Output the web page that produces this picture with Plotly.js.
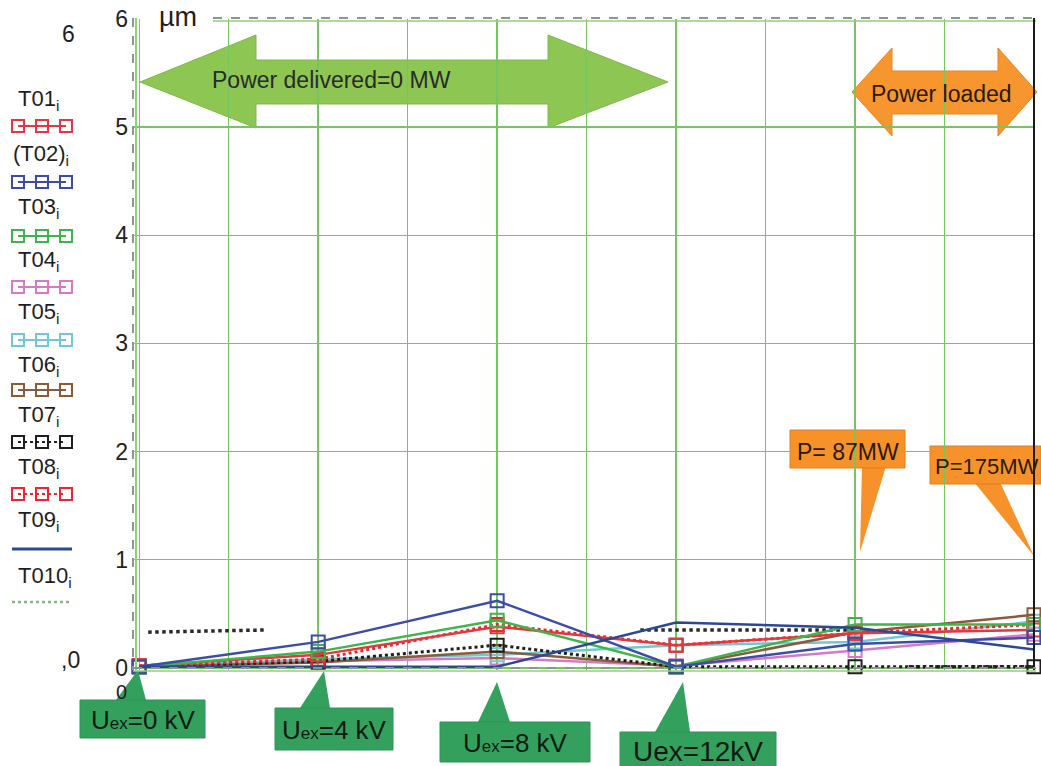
<!DOCTYPE html>
<html>
<head>
<meta charset="utf-8">
<script src="https://cdn.plot.ly/plotly-3.0.1.min.js"></script>
<style>html,body{margin:0;padding:0;background:#fff}#chart{width:1041px;height:766px}</style>
</head>
<body>
<div id="chart"></div>
<script>
// ---------------- data ----------------
const categories = ['U<span style="font-size:17px">ex</span>=0 kV', 'U<span style="font-size:17px">ex</span>=4 kV', 'U<span style="font-size:17px">ex</span>=8 kV', 'Uex=12kV', 'P= 87MW', 'P=175MW'];
const xPos = [0, 2, 4, 6, 8, 10];
const seriesNames = ['T01<sub>i</sub>', '(T02)<sub>i</sub>', 'T03<sub>i</sub>', 'T04<sub>i</sub>', 'T05<sub>i</sub>', 'T06<sub>i</sub>', 'T07<sub>i</sub>', 'T08<sub>i</sub>', 'T09<sub>i</sub>', 'T010<sub>i</sub>'];
const T01 = [0.02, 0.12, 0.38, 0.21, 0.32, 0.35];
const T02 = [0.01, 0.24, 0.62, 0.01, 0.22, 0.28];
const T03 = [0.01, 0.15, 0.44, 0.01, 0.40, 0.40];
const T04 = [0.01, 0.06, 0.09, 0.02, 0.16, 0.31];
const T05 = [0.01, 0.08, 0.12, 0.21, 0.24, 0.43];
const T06 = [0.01, 0.05, 0.15, 0.01, 0.33, 0.49];
const T07 = [0.01, 0.06, 0.21, 0.01, 0.01, 0.01];
const T08 = [0.02, 0.08, 0.40, 0.21, 0.32, 0.40];
const T09 = [0.01, 0.01, 0.01, 0.42, 0.37, 0.17];
const T010x = [0.1, 1.4, null, 5.6, 8, null, 8.6, 10];
const T010 = [0.33, 0.35, null, 0.35, 0.35, null, 0.01, 0.01];
const yTicks = [0, 1, 2, 3, 4, 5, 6];

// ---------------- styles ----------------
const W = 1041, H = 766;
const px = x => x / W;
const py = y => 1 - y / H;
const styles = [
  {c: '#e2373c', dash: 'solid', m: true},
  {c: '#3b4da6', dash: 'solid', m: true},
  {c: '#3db54a', dash: 'solid', m: true},
  {c: '#d878c8', dash: 'solid', m: true},
  {c: '#72c8d2', dash: 'solid', m: true},
  {c: '#8b5a3c', dash: 'solid', m: true},
  {c: '#1e1e1e', dash: 'dot', m: true},
  {c: '#e8262c', dash: 'dot', m: true},
  {c: '#2c4796', dash: 'solid', m: false},
  {c: '#8fae8a', dash: 'dot', m: false}
];
const allY = [T01, T02, T03, T04, T05, T06, T07, T08, T09];

const traces = [];
const order = [9, 3, 4, 5, 6, 7, 0, 2, 1, 8];
order.forEach(i => {
  const s = styles[i];
  if (i === 9) {
    traces.push({x: T010x, y: T010, mode: 'lines', xaxis: 'x', yaxis: 'y',
      line: {color: '#2a2a2a', width: 3.5, dash: 'dot'}, connectgaps: false, showlegend: false, cliponaxis: false});
    return;
  }
  traces.push({x: xPos, y: allY[i], mode: s.m ? 'lines+markers' : 'lines', xaxis: 'x', yaxis: 'y',
    line: {color: s.c, width: s.dash === 'dot' ? 3 : 2.5, dash: s.dash === 'dot' ? 'dot' : 'solid'},
    marker: {symbol: 'square-open', size: 13, color: s.c, line: {width: 2, color: s.c}},
    showlegend: false, cliponaxis: false});
});

// legend samples drawn on a pixel-space overlay axis
const legLineY = [126, 182, 236, 287, 340, 390, 442, 494, 549, 602];
const legTextY = [100, 155, 208, 261, 313, 366, 416, 468, 521, 577];
styles.forEach((s, i) => {
  if (s.m) {
    traces.push({x: [18, 42, 66], y: [legLineY[i], legLineY[i], legLineY[i]], xaxis: 'x2', yaxis: 'y2',
      mode: 'lines+markers', line: {color: s.c, width: 2, dash: s.dash === 'dot' ? 'dot' : 'solid'},
      marker: {symbol: 'square-open', size: 12, color: s.c, line: {width: 2, color: s.c}}, showlegend: false, cliponaxis: false});
  } else {
    traces.push({x: [12, 72], y: [legLineY[i], legLineY[i]], xaxis: 'x2', yaxis: 'y2',
      mode: 'lines', line: {color: s.c, width: s.dash === 'dot' ? 2.5 : 3, dash: s.dash},
      showlegend: false, cliponaxis: false});
  }
});

// ---------------- shapes ----------------
function poly(pts) {
  return 'M ' + pts.map(p => px(p[0]).toFixed(5) + ',' + py(p[1]).toFixed(5)).join(' L ') + ' Z';
}
const shapes = [];
const greenArrow = [[140,82],[256,35],[256,60],[548,60],[548,35],[668,82],[548,128],[548,104],[256,104],[256,128]];
const orangeArrow = [[852,92],[892,48],[892,71],[998,71],[998,48],[1037,92],[998,136],[998,114],[892,114],[892,136]];
shapes.push({type: 'path', xref: 'paper', yref: 'paper', path: poly(greenArrow), fillcolor: '#8dc653', line: {color: '#7fb84a', width: 1}, layer: 'below'});
shapes.push({type: 'path', xref: 'paper', yref: 'paper', path: poly(orangeArrow), fillcolor: '#f7962e', line: {color: '#e88420', width: 1}, layer: 'below'});

const gBoxes = [
  {b: [80,700,205,738], w: [[116,700],[146,700],[138,670]]},
  {b: [275,708,393,750], w: [[300,708],[330,708],[324,671]]},
  {b: [440,722,590,762], w: [[478,722],[510,722],[497,682]]},
  {b: [620,732,776,768], w: [[655,732],[690,732],[683,682]]}
];
gBoxes.forEach(g => {
  shapes.push({type: 'path', xref: 'paper', yref: 'paper', path: poly(g.w), fillcolor: '#34a05e', line: {width: 0}, layer: 'above'});
  shapes.push({type: 'rect', xref: 'paper', yref: 'paper', x0: px(g.b[0]), x1: px(g.b[2]), y0: py(g.b[3]), y1: py(g.b[1]), fillcolor: '#34a05e', line: {color: '#2f9457', width: 1}, layer: 'above'});
});
const oBoxes = [
  {b: [790,430,905,468], w: [[862,466],[886,466],[860,552]]},
  {b: [930,446,1041,484], w: [[974,482],[1000,482],[1034,556]]}
];
oBoxes.forEach(o => {
  shapes.push({type: 'path', xref: 'paper', yref: 'paper', path: poly(o.w), fillcolor: '#f7922a', line: {width: 0}, layer: 'below'});
  shapes.push({type: 'rect', xref: 'paper', yref: 'paper', x0: px(o.b[0]), x1: px(o.b[2]), y0: py(o.b[3]), y1: py(o.b[1]), fillcolor: '#f7922a', line: {color: '#e07f1c', width: 1}, layer: 'below'});
});
const lineShape = (x0, y0, x1, y1, c, w, d) => ({type: 'line', xref: 'paper', yref: 'paper', x0: px(x0), y0: py(y0), x1: px(x1), y1: py(y1), line: {color: c, width: w, dash: d || 'solid'}, layer: 'above'});
shapes.push(lineShape(133, 18, 133, 670, '#8c9690', 2, 'dash'));
shapes.push(lineShape(136, 18, 136, 670, '#8fd07a', 2));
shapes.push(lineShape(213, 18, 1036, 18, '#8c9690', 2, 'dash'));
shapes.push(lineShape(213, 21, 1036, 21, '#8fd07a', 1.5));
shapes.push(lineShape(1034, 18, 1034, 670, '#1a1a1a', 2));
shapes.push(lineShape(133, 668, 1036, 668, '#8c9690', 2, 'dash'));
shapes.push(lineShape(133, 671, 1036, 671, '#8fd07a', 1.5));

// ---------------- annotations ----------------
const FONT = 'Liberation Sans, Arial, sans-serif';
const ann = [];
const txt = (x, y, t, size, color, xanchor) => ({xref: 'paper', yref: 'paper', x: px(x), y: py(y), text: t, showarrow: false,
  xanchor: xanchor || 'center', yanchor: 'middle', font: {family: FONT, size: size, color: color || '#1e1e1e'}});
seriesNames.forEach((n, i) => ann.push(txt(i === 1 ? 11 : 16, legTextY[i], n, 22, '#1e1e1e', 'left')));
ann.push(txt(178, 17, 'µm', 27));
ann.push(txt(68, 34, '6', 23));
ann.push(txt(70, 660, ',0', 23));
ann.push(txt(121, 692, '0', 20));
ann.push(txt(331, 80, 'Power delivered=0 MW', 23, '#2a2a2a'));
ann.push(txt(941, 94, 'Power loaded', 23, '#2a1a0a'));
ann.push(txt(848, 452, 'P= 87MW', 23, '#2a1a0a'));
ann.push(txt(933, 466, 'P=175MW', 22, '#2a1a0a', 'left'));
const gText = [[143, 720], [334, 730], [515, 743], [698, 751]];
categories.slice(0, 4).forEach((c, i) => ann.push(txt(gText[i][0], gText[i][1], c, i === 3 ? 28 : 26, '#101a12')));

const layout = {
  width: W, height: H,
  margin: {l: 0, r: 0, t: 0, b: 0},
  paper_bgcolor: '#ffffff',
  plot_bgcolor: 'rgba(0,0,0,0)',
  showlegend: false,
  xaxis: {domain: [px(133), px(1034)], range: [-0.07, 10], dtick: 1, tick0: 0, showgrid: true,
    gridcolor: '#74c75f', gridwidth: 1.5, zeroline: false, showticklabels: false, showline: false, fixedrange: true},
  yaxis: {domain: [py(670), py(19)], range: [-0.02, 6], tickvals: yTicks, ticktext: yTicks.map(String), showgrid: true,
    gridcolor: '#74c75f', gridwidth: 1.5, zeroline: false, showline: false, ticks: '', ticklabelstandoff: 4,
    tickfont: {family: FONT, size: 23, color: '#222'}, fixedrange: true},
  xaxis2: {domain: [0, 1], range: [0, W], visible: false, fixedrange: true, anchor: 'y2'},
  yaxis2: {domain: [0, 1], range: [H, 0], visible: false, fixedrange: true, anchor: 'x2'},
  shapes: shapes,
  annotations: ann
};
Plotly.newPlot('chart', traces, layout, {displayModeBar: false, staticPlot: true});
</script>
</body>
</html>
